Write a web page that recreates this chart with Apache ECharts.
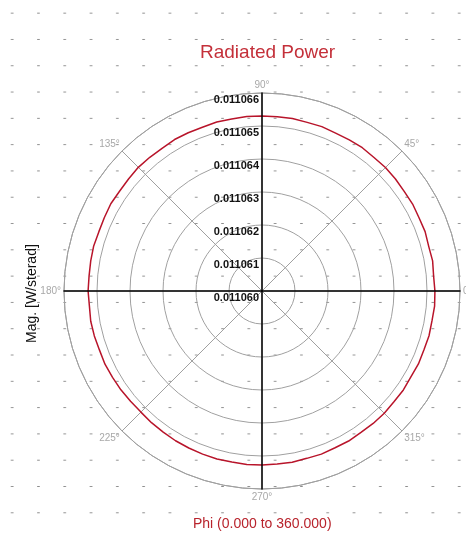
<!DOCTYPE html>
<html>
<head>
<meta charset="utf-8">
<script src="https://cdn.jsdelivr.net/npm/echarts@6/dist/echarts.min.js"></script>
<style>
html,body{margin:0;padding:0;background:#fff;}
#c{width:466px;height:537px;
 background-image:radial-gradient(ellipse 1.6px 0.9px at 50% 50%, #8a8a8a 0%, #9a9a9a 60%, rgba(255,255,255,0) 100%);
 background-size:26.3px 26.3px;background-position:-1px 0px;}
</style>
</head>
<body>
<div id="c"></div>
<script>
const titleText = 'Radiated Power';
const xName = 'Phi (0.000 to 360.000)';
const yName = 'Mag. [W/sterad]';
const radiusMin = 0.011060, radiusMax = 0.011066, radiusStep = 0.000001;
const angleTicks = [0,45,90,135,180,225,270,315];
const phiDeg = [0,5,10,15,20,25,30,35,40,45,50,55,60,65,70,75,80,85,90,95,100,105,110,115,120,125,130,135,140,145,150,155,160,165,170,175,180,185,190,195,200,205,210,215,220,225,230,235,240,245,250,255,260,265,270,275,280,285,290,295,300,305,310,315,320,325,330,335,340,345,350,355,360];
const magValues = [
0.01106524,0.01106522,0.01106525,0.01106523,0.01106526,0.01106525,0.01106527,0.01106526,0.01106528,
0.01106529,0.01106528,0.01106530,0.01106529,0.01106528,0.01106530,0.01106529,0.01106531,0.01106530,
0.01106530,0.01106531,0.01106529,0.01106530,0.01106528,0.01106529,0.01106530,0.01106528,0.01106529,
0.01106530,0.01106528,0.01106527,0.01106529,0.01106527,0.01106526,0.01106528,0.01106527,0.01106526,
0.01106527,0.01106525,0.01106527,0.01106526,0.01106524,0.01106525,0.01106523,0.01106522,0.01106520,
0.01106519,0.01106521,0.01106522,0.01106524,0.01106525,0.01106526,0.01106527,0.01106526,0.01106528,
0.01106527,0.01106526,0.01106527,0.01106525,0.01106526,0.01106524,0.01106525,0.01106523,0.01106524,
0.01106524,0.01106522,0.01106523,0.01106521,0.01106523,0.01106522,0.01106524,0.01106523,0.01106525,
0.01106524];

const chart = echarts.init(document.getElementById('c'), null, {renderer:'canvas'});
const center = [262, 291];
const R = 198;
const FONT = 'Liberation Sans, Arial, sans-serif';

const starts = [0, 90, 180, 270];
const polars = starts.map(()=>({center: center, radius: R}));
const angleAxes = starts.map((s,i)=>({
  polarIndex: i, type:'value', min:0, max:360, interval:45,
  startAngle: s, clockwise:false,
  show: i===0,
  axisLine:{show:i===0, lineStyle:{color:'#9a9a9a', width:1}},
  axisTick:{show:false},
  axisLabel:{show:i===0, color:'#a8a8a8', fontSize:10, fontFamily:FONT, margin:3,
    formatter: v => angleTicks.indexOf(v) >= 0 ? v + '°' : ''},
  splitLine:{show:i===0, lineStyle:{color:'#a0a0a0', width:1}}
}));
const radiusAxes = starts.map((s,i)=>({
  polarIndex: i, type:'value', min:radiusMin, max:radiusMax, interval:radiusStep,
  axisLine:{show:true, lineStyle:{color:'#000', width:1.5}},
  axisTick:{show:false},
  axisLabel:{show:i===1, color:'#111', fontSize:11, fontWeight:'bold', fontFamily:FONT,
    verticalAlign:'top', margin:3, padding:[1,0,0,0],
    formatter: v => v.toFixed(6)},
  splitLine:{show:i===0, lineStyle:{color:'#a0a0a0', width:1}},
  z: 5
}));

chart.setOption({
  animation:false,
  title:[
    {text:titleText, left:195, top:38, textStyle:{color:'#c4303a', fontSize:19, fontWeight:'normal', fontFamily:FONT}},
    {text:xName, left:188, top:512, textStyle:{color:'#b8232c', fontSize:14, fontWeight:'normal', fontFamily:FONT}}
  ],
  polar: polars,
  angleAxis: angleAxes,
  radiusAxis: radiusAxes,
  graphic:[{type:'text', x:25, y:343, rotation:Math.PI/2,
    style:{text:yName, fill:'#111', font:'14px Liberation Sans, Arial, sans-serif'}}],
  series:[{
    type:'line', coordinateSystem:'polar', polarIndex:0, symbol:'none',
    lineStyle:{color:'#b8142a', width:1.5},
    data: phiDeg.map((a,i)=>[magValues[i], a]),
    z:3
  }]
});
</script>
</body>
</html>
